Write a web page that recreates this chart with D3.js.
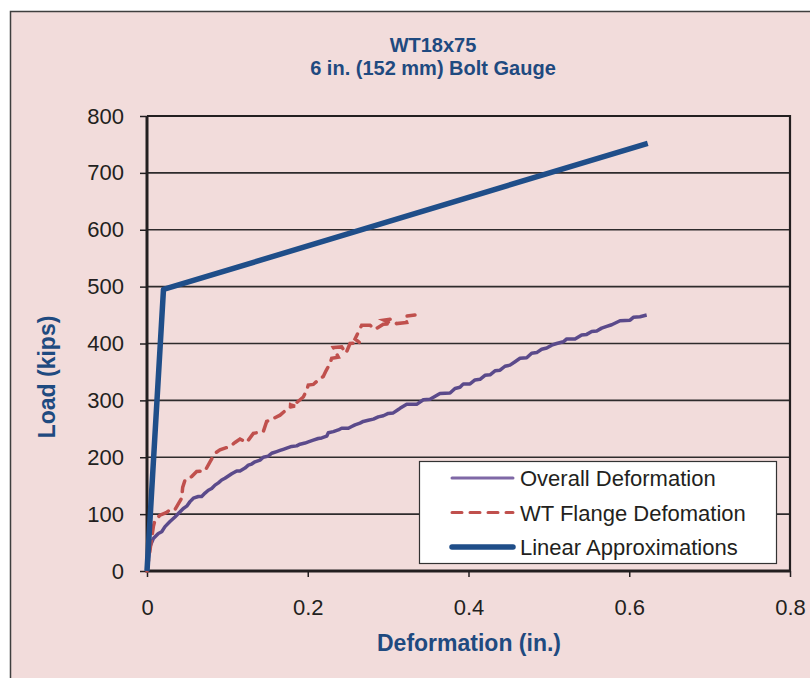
<!DOCTYPE html>
<html>
<head>
<meta charset="utf-8">
<script src="https://cdn.jsdelivr.net/npm/d3@7"></script>
<style>
  body { margin: 0; background: #fff; }
  svg { display: block; font-family: "Liberation Sans", Arial, sans-serif; }
</style>
</head>
<body>
<svg id="chart"></svg>
<script>
// values: [deformation (in.), load (kips)]
const overallDeformation = [
  [0, 0], [0.0037, 43], [0.0079, 57], [0.0141, 66], [0.0183, 69], [0.0224, 78],
  [0.0286, 87], [0.0348, 95], [0.039, 101], [0.0452, 110], [0.0494, 114], [0.0535, 122],
  [0.0577, 128], [0.0639, 131], [0.068, 131], [0.0722, 137], [0.0763, 142], [0.0805, 145],
  [0.0846, 151], [0.0888, 155], [0.0929, 160], [0.097, 163], [0.1012, 167], [0.1054, 171],
  [0.1116, 176], [0.1157, 176], [0.1219, 181], [0.1261, 186], [0.1302, 188], [0.1344, 192],
  [0.1406, 195], [0.1447, 200], [0.1509, 202], [0.1551, 207], [0.1614, 210], [0.1655, 212],
  [0.1696, 214], [0.1738, 216], [0.18, 219], [0.1862, 220], [0.1904, 223], [0.1966, 225],
  [0.2007, 227], [0.2069, 230], [0.2131, 233], [0.2174, 234], [0.2236, 237], [0.2256, 243],
  [0.2318, 245], [0.238, 248], [0.2422, 251], [0.2505, 251], [0.2547, 254], [0.2588, 257],
  [0.265, 260], [0.2691, 263], [0.2753, 265], [0.2816, 267], [0.2878, 271], [0.294, 273],
  [0.3002, 277], [0.3064, 278], [0.3127, 284], [0.3148, 286], [0.3231, 293], [0.3355, 293],
  [0.3438, 301], [0.3521, 302], [0.3645, 312], [0.377, 313], [0.3832, 321], [0.3894, 323],
  [0.3936, 329], [0.4019, 329], [0.4081, 336], [0.4143, 337], [0.4205, 344], [0.4268, 345],
  [0.433, 352], [0.4392, 353], [0.4454, 360], [0.4516, 362], [0.4579, 368], [0.4641, 374],
  [0.4724, 375], [0.4786, 383], [0.4848, 384], [0.491, 390], [0.4973, 392], [0.5035, 397],
  [0.5097, 400], [0.518, 403], [0.5222, 408], [0.5325, 408], [0.5408, 415], [0.547, 416],
  [0.5533, 421], [0.5595, 422], [0.5657, 427], [0.572, 430], [0.5782, 433], [0.5885, 440],
  [0.601, 441], [0.6051, 446], [0.6134, 447], [0.6217, 450]
];

const flangeDeformation = [
  [0, 0], [0.0079, 78], [0.01, 90], [0.0162, 98], [0.0245, 103], [0.0286, 108],
  [0.0348, 108], [0.0431, 128], [0.0444, 147], [0.0473, 160], [0.0556, 166], [0.0618, 175],
  [0.0722, 176], [0.0784, 192], [0.0846, 207], [0.0908, 213], [0.1033, 219], [0.1095, 226],
  [0.1157, 232], [0.124, 226], [0.1323, 242], [0.1447, 245], [0.1489, 263], [0.1572, 268],
  [0.1655, 274], [0.177, 288], [0.1841, 290], [0.177, 293], [0.1853, 295], [0.1945, 306],
  [0.1987, 318], [0.2007, 327], [0.2069, 328], [0.2131, 336], [0.2193, 342], [0.2227, 352],
  [0.2277, 365], [0.2298, 374], [0.238, 376], [0.2318, 393], [0.2422, 394], [0.2476, 383],
  [0.2526, 400], [0.265, 401], [0.2588, 408], [0.2671, 432], [0.2774, 432], [0.2837, 425],
  [0.294, 434], [0.3044, 435], [0.2949, 441], [0.3044, 443], [0.3106, 435], [0.3231, 437],
  [0.321, 448], [0.3334, 450]
];

const linearApprox = [[0, 0], [0.0205, 495], [0.623, 752]];

const xTicks = [0, 0.2, 0.4, 0.6, 0.8];
const yTicks = [0, 100, 200, 300, 400, 500, 600, 700, 800];
const seriesNames = ["Overall Deformation", "WT Flange Defomation", "Linear Approximations"];
const titleLines = ["WT18x75", "6 in. (152 mm) Bolt Gauge"];

const width = 810;
const height = 678;
const plotLeft = 147, plotRight = 790, plotTop = 116, plotBottom = 571;
const ink = "#231f20";
const titleBlue = "#1f4a80";

let svg = d3.select("#chart").attr("width", width).attr("height", height);

// chart area background
svg.append("rect")
  .attr("x", 10.5).attr("y", 11.5)
  .attr("width", width + 20).attr("height", height + 20)
  .attr("fill", "#f2dcdb")
  .attr("stroke", "#3f3f3f")
  .attr("stroke-width", 1.5);

let xScale = d3.scaleLinear().domain([0, 0.8]).range([plotLeft, plotRight]);
let yScale = d3.scaleLinear().domain([0, 800]).range([plotBottom, plotTop]);

// titles
svg.append("g")
  .selectAll("text")
  .data(titleLines)
  .enter()
  .append("text")
  .text((d) => d)
  .attr("x", 433)
  .attr("y", (d, i) => 52 + i * 23)
  .attr("text-anchor", "middle")
  .attr("font-size", 20)
  .attr("font-weight", "bold")
  .attr("fill", titleBlue);

// gridlines
svg.append("g")
  .selectAll("line")
  .data(yTicks.filter((d) => d > 0 && d < 800))
  .enter()
  .append("line")
  .attr("x1", plotLeft).attr("x2", plotRight)
  .attr("y1", (d) => yScale(d)).attr("y2", (d) => yScale(d))
  .attr("stroke", "#2e2b2c")
  .attr("stroke-width", 1.6);

// axes
let xAxis = d3.axisBottom(xScale).tickValues(xTicks).tickSize(6).tickFormat((d) => d3.format("")(d));
let gx = svg.append("g")
  .attr("transform", "translate(0," + plotBottom + ")")
  .call(xAxis);
gx.select(".domain").remove();
gx.selectAll("line").attr("stroke", ink).attr("stroke-width", 1.5);
gx.selectAll("text")
  .attr("y", 44).attr("dy", null)
  .attr("font-size", 22)
  .attr("font-family", "Liberation Sans, Arial, sans-serif")
  .attr("fill", ink);

let yAxis = d3.axisLeft(yScale).tickValues(yTicks).tickSize(7).tickPadding(16);
let gy = svg.append("g")
  .attr("transform", "translate(" + plotLeft + ",0)")
  .call(yAxis);
gy.select(".domain").remove();
gy.selectAll("line").attr("stroke", ink).attr("stroke-width", 1.5);
gy.selectAll("text")
  .attr("font-size", 22)
  .attr("font-family", "Liberation Sans, Arial, sans-serif")
  .attr("fill", ink);

// plot frame
svg.append("path")
  .attr("d", "M" + plotLeft + "," + plotTop + "H" + plotRight + "V" + plotBottom)
  .attr("fill", "none")
  .attr("stroke", ink)
  .attr("stroke-width", 2.2);
svg.append("path")
  .attr("d", "M" + plotLeft + "," + plotTop + "V" + plotBottom + "H" + plotRight)
  .attr("fill", "none")
  .attr("stroke", ink)
  .attr("stroke-width", 3);

// series
let line = d3.line().x((d) => xScale(d[0])).y((d) => yScale(d[1]));

svg.append("path")
  .datum(overallDeformation)
  .attr("d", line)
  .attr("fill", "none")
  .attr("stroke", "#5b4a8b")
  .attr("stroke-width", 3.5)
  .attr("stroke-linejoin", "round");

svg.append("path")
  .datum(flangeDeformation)
  .attr("d", line)
  .attr("fill", "none")
  .attr("stroke", "#c0504d")
  .attr("stroke-width", 3.5)
  .attr("stroke-dasharray", "11,8")
  .attr("stroke-linecap", "round");

svg.append("path")
  .datum(linearApprox)
  .attr("d", line)
  .attr("fill", "none")
  .attr("stroke", "#1f4e89")
  .attr("stroke-width", 5.5)
  .attr("stroke-linejoin", "round");

// axis titles
svg.append("text")
  .text("Deformation (in.)")
  .attr("x", 469).attr("y", 651)
  .attr("text-anchor", "middle")
  .attr("font-size", 23)
  .attr("font-weight", "bold")
  .attr("fill", titleBlue);

svg.append("text")
  .text("Load (kips)")
  .attr("transform", "translate(55,377) rotate(-90)")
  .attr("text-anchor", "middle")
  .attr("font-size", 23)
  .attr("font-weight", "bold")
  .attr("fill", titleBlue);

// legend
let legend = svg.append("g");
legend.append("rect")
  .attr("x", 419.5).attr("y", 461.5)
  .attr("width", 357).attr("height", 102)
  .attr("fill", "#fff")
  .attr("stroke", "#333")
  .attr("stroke-width", 1.2);

let legendStyles = [
  { color: "#7f68a6", width: 3, dash: null },
  { color: "#c0504d", width: 3, dash: "10,8" },
  { color: "#1f4e89", width: 5.5, dash: null }
];

seriesNames.forEach((name, i) => {
  let y = 478 + i * 34.5;
  legend.append("line")
    .attr("x1", 452).attr("x2", 513)
    .attr("y1", y).attr("y2", y)
    .attr("stroke", legendStyles[i].color)
    .attr("stroke-width", legendStyles[i].width)
    .attr("stroke-dasharray", legendStyles[i].dash)
    .attr("stroke-linecap", "round");
  legend.append("text")
    .text(name)
    .attr("x", 520).attr("y", y + 8)
    .attr("font-size", 22)
    .attr("fill", ink);
});
</script>
</body>
</html>
